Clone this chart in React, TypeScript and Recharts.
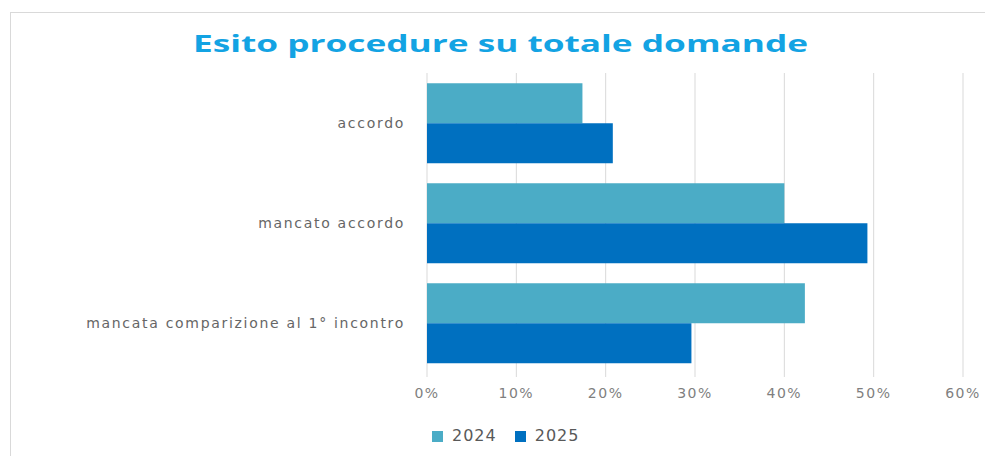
import React from "react";
import { BarChart, Bar, XAxis, YAxis, CartesianGrid, Legend } from "recharts";

const categories = [
  "accordo",
  "mancato accordo",
  "mancata comparizione al 1° incontro",
];
const values2024 = [17.4, 40.0, 42.3];
const values2025 = [20.8, 49.3, 29.6];
const xTicks = [0, 10, 20, 30, 40, 50, 60];

const data = categories.map((name, i) => ({
  name,
  y2024: values2024[i],
  y2025: values2025[i],
}));

const COLOR_2024 = "#4BACC6";
const COLOR_2025 = "#0070C0";
const GRID = "#D9D9D9";

const renderLegend = (props: any) => (
  <div
    style={{
      display: "flex",
      alignItems: "center",
      fontFamily: "DejaVu Sans",
      fontSize: 16,
      lineHeight: "16px",
      letterSpacing: 1,
      color: "#595959",
    }}
  >
    {(props.payload || []).map((entry: any) => (
      <div
        key={entry.value}
        style={{ display: "flex", alignItems: "center", marginRight: 18 }}
      >
        <span
          style={{
            display: "inline-block",
            width: 11,
            height: 11,
            background: entry.color,
            marginRight: 9,
          }}
        />
        <span>{entry.value}</span>
      </div>
    ))}
  </div>
);

const App: React.FC = () => {
  return (
    <div
      style={{
        position: "fixed",
        left: 0,
        top: 0,
        width: 985,
        height: 456,
        overflow: "hidden",
        background: "#fff",
      }}
    >
      <div
        style={{
          position: "absolute",
          left: 10,
          top: 12,
          width: 1000,
          height: 500,
          border: `1px solid ${GRID}`,
        }}
      />
      <div style={{ position: "absolute", left: 0, top: 0 }}>
        <BarChart
          width={985}
          height={456}
          data={data}
          layout="vertical"
          barCategoryGap="10.3%"
          barGap={0}
          margin={{ top: 73, right: 22, bottom: 53, left: 7 }}
        >
          <CartesianGrid horizontal={false} stroke={GRID} />
          <XAxis
            type="number"
            domain={[0, 60]}
            ticks={xTicks}
            tickFormatter={(v: number) => `${v}%`}
            axisLine={false}
            tickLine={{ stroke: GRID }}
            tickSize={4}
            tickMargin={11}
            height={30}
            tick={{
              fontSize: 14,
              fill: "#7F7F7F",
              fontFamily: "DejaVu Sans",
              letterSpacing: 1.5,
            }}
          />
          <YAxis
            type="category"
            dataKey="name"
            width={420}
            axisLine={false}
            tickLine={false}
            tickSize={0}
            tickMargin={22}
            tick={{
              fontSize: 14,
              fill: "#666666",
              fontFamily: "DejaVu Sans",
              letterSpacing: 1.7,
            }}
          />
          <Legend
            verticalAlign="middle"
            align="center"
            content={renderLegend}
            wrapperStyle={{ left: 432, top: 428, width: "auto" }}
          />
          <Bar dataKey="y2024" name="2024" fill={COLOR_2024} isAnimationActive={false} />
          <Bar dataKey="y2025" name="2025" fill={COLOR_2025} isAnimationActive={false} />
        </BarChart>
      </div>
      <svg
        width={985}
        height={70}
        style={{ position: "absolute", left: 0, top: 0 }}
      >
        <text
          x={500.5}
          y={52}
          textAnchor="middle"
          textLength={615}
          lengthAdjust="spacingAndGlyphs"
          fontFamily="Open Sans"
          fontWeight={700}
          fontSize={24}
          fill="#13A3E3"
        >
          Esito procedure su totale domande
        </text>
      </svg>
    </div>
  );
};

export default App;
